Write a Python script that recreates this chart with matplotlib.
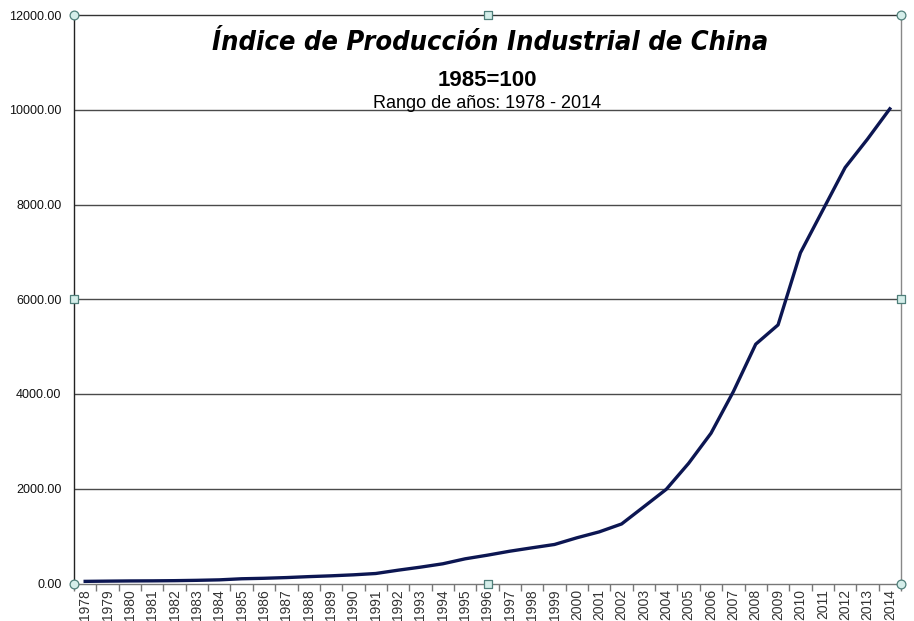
import matplotlib
matplotlib.use("Agg")
import matplotlib.pyplot as plt
import numpy as np
from matplotlib import font_manager

years = [str(y) for y in range(1978, 2015)]
values = [45, 50, 54, 56, 60, 67, 77, 100, 110, 125, 145, 162, 183, 211,
          281, 345, 416, 521, 598, 682, 754, 824, 965, 1090, 1257, 1622,
          1989, 2538, 3172, 4051, 5051, 5459, 6980, 7880, 8780, 9380, 10020]
yticks = [0, 2000, 4000, 6000, 8000, 10000, 12000]

title = "Índice de Producción Industrial de China"
subtitle1 = "1985=100"
subtitle2 = "Rango de años: 1978 - 2014"

cond = [f for f in font_manager.fontManager.ttflist
        if f.name.startswith("DejaVu Sans") and "Condensed" in f.fname]
if cond:
    title_kw = dict(family=["DejaVu Sans"], fontstretch="condensed", fontsize=19.5)
else:
    title_kw = dict(family=["DejaVu Sans"], fontsize=17.5)

W, H = 914, 621
fig = plt.figure(figsize=(W / 100, H / 100), dpi=100)
fig.patch.set_facecolor("white")
ax = fig.add_axes([74 / W, 1 - 583.5 / H, (901 - 74) / W, (583.5 - 15) / H])

x = np.arange(len(years))
ax.set_xlim(-0.5, len(years) - 0.5)
ax.set_ylim(0, 12000)

for v in yticks[1:-1]:
    ax.axhline(v, color="#4a4a4a", lw=1.0, zorder=1)

ax.plot(x, values, color="#0c1652", lw=2.4, solid_joinstyle="round", zorder=3)

ax.spines["left"].set_color("#222222")
ax.spines["left"].set_linewidth(1.0)
ax.spines["top"].set_color("#333333")
ax.spines["top"].set_linewidth(1.0)
ax.spines["right"].set_color("#888888")
ax.spines["right"].set_linewidth(1.0)
ax.spines["bottom"].set_color("#777777")
ax.spines["bottom"].set_linewidth(1.0)

ax.set_yticks(yticks)
ax.set_yticklabels([f"{v:.2f}" for v in yticks], family=["Liberation Sans", "DejaVu Sans"],
                   fontsize=9, color="#111111")
ax.tick_params(axis="y", length=0, pad=9)

ax.set_xticks(x)
ax.set_xticklabels(years, rotation=90, family=["Liberation Sans", "DejaVu Sans"],
                   fontsize=10, color="#333333", va="top")
ax.tick_params(axis="x", which="major", length=0, pad=4)
ax.set_xticks(np.arange(-0.5, len(years), 1.0), minor=True)
ax.tick_params(axis="x", which="minor", length=5, color="#777777", width=1)

# selection handles (decorative)
ax.scatter([0, 1, 0, 1], [1, 1, 0, 0], s=40, marker="o", facecolor="#d5eeea",
           edgecolor="#4f7f7a", linewidths=0.9, transform=ax.transAxes,
           clip_on=False, zorder=5)
ax.scatter([0.5, 1, 0.5, 0], [1, 0.5, 0, 0.5], s=28, marker="s", facecolor="#d5eeea",
           edgecolor="#4f7f7a", linewidths=0.9, transform=ax.transAxes,
           clip_on=False, zorder=5)

fig.text(490 / W, 1 - 43 / H, title, ha="center", va="center",
         fontweight="bold", fontstyle="italic", color="#000000", **title_kw)
fig.text(487 / W, 1 - 80 / H, subtitle1, ha="center", va="center", fontsize=16,
         fontweight="bold", family=["Liberation Sans", "DejaVu Sans"], color="#000000")
fig.text(487 / W, 1 - 103 / H, subtitle2, ha="center", va="center", fontsize=13,
         family=["Liberation Sans", "DejaVu Sans"], color="#000000", zorder=10)

fig.savefig("out.png", dpi=100)
